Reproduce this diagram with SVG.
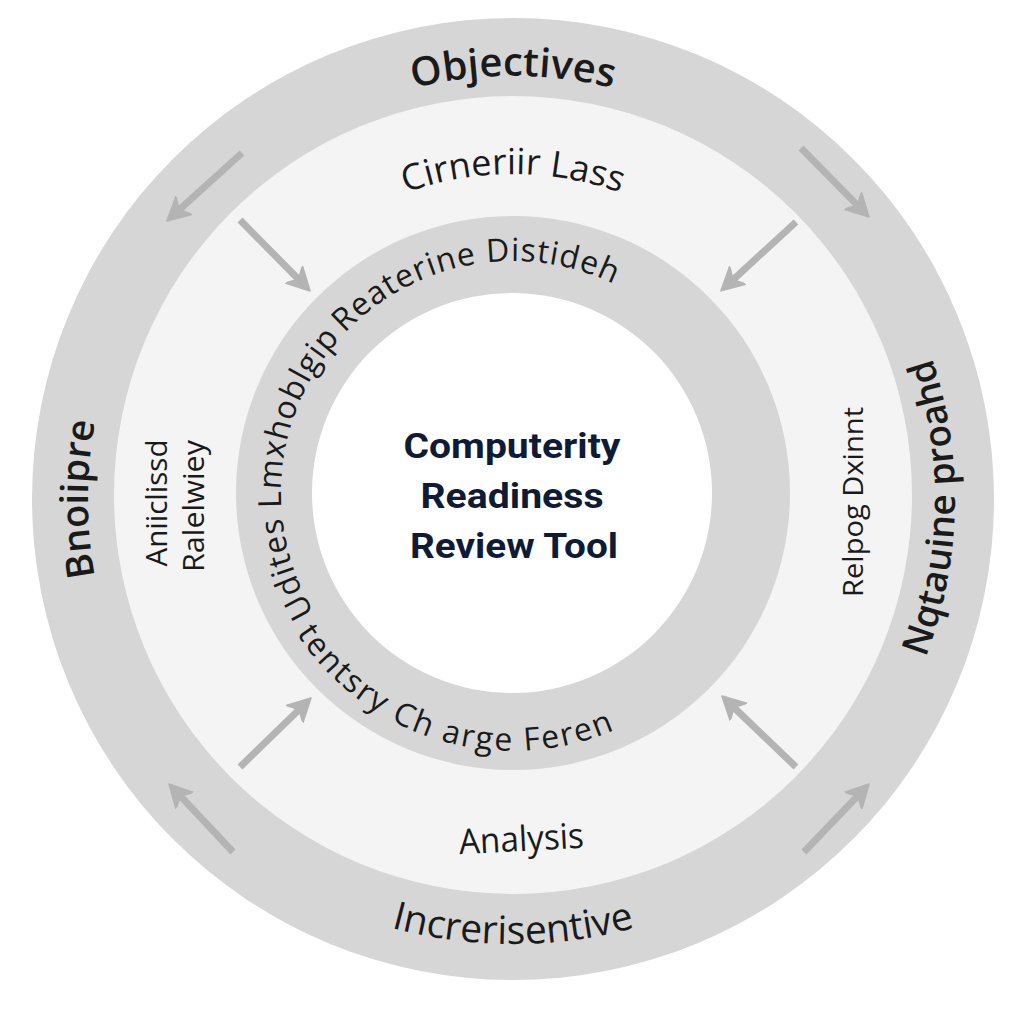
<svg xmlns="http://www.w3.org/2000/svg" width="1024" height="1024" viewBox="0 0 1024 1024">
<style>
.lbl{font-family:"Open Sans","Liberation Sans",sans-serif;fill:#1a1a1a}
.bold{font-weight:600}
.ctr{font-family:Roboto,"Liberation Sans",sans-serif;font-weight:700;fill:#0f1b35;font-size:35px}
.arr{stroke:#b4b4b4;stroke-width:7;fill:none;marker-end:url(#ah)}
</style>
<defs>
<marker id="ah" viewBox="0 0 12 12" refX="3" refY="6" markerWidth="26" markerHeight="26" markerUnits="userSpaceOnUse" orient="auto">
<path d="M0,0.5 L10.5,6 L0,11.5 L3,6 z" fill="#b4b4b4" stroke="#b4b4b4" stroke-width="0.8" stroke-linejoin="round"/>
</marker>
<path id="pObj" d="M90,499 A423,423 0 0 1 936,499"/>
<path id="pLeft" d="M300.5,867.1 A425,425 0 0 1 300.5,130.9"/>
<path id="pRight" d="M734,881.8 A442,442 0 0 0 734,116.2"/>
<path id="pBottom" d="M110.3,711.5 A465,465 0 0 0 915.7,711.5"/>
<path id="pCir" d="M192,495 A321,321 0 0 1 834,495"/>
<path id="pInCw" d="M314.1,612.5 A232,232 0 1 1 741.5,533.3"/>
<path id="pInCwB" d="M344.7,333.3 A232,232 0 0 1 713.9,377"/>
<path id="pInCcw" d="M296.6,633.5 A258,258 0 0 0 755.4,404.8"/>
</defs>
<rect width="1024" height="1024" fill="#ffffff"/>

<g id="ring-outer">
<circle cx="513" cy="499" r="481" fill="#d6d6d6"/>
</g>
<g id="ring-middle">
<circle cx="513" cy="495" r="399" fill="#f4f4f4"/>
</g>
<g id="ring-inner">
<circle cx="513" cy="493" r="277" fill="#d6d6d6"/>
</g>
<g id="core">
<circle cx="512" cy="493" r="200" fill="#ffffff"/>
<text class="ctr" x="512" y="458" text-anchor="middle" textLength="217" lengthAdjust="spacingAndGlyphs">Computerity</text>
<text class="ctr" x="512" y="508" text-anchor="middle" textLength="183" lengthAdjust="spacingAndGlyphs">Readiness</text>
<text class="ctr" x="514" y="558" text-anchor="middle" textLength="208" lengthAdjust="spacingAndGlyphs">Review Tool</text>
</g>

<g id="connectors">
<line class="arr" x1="242" y1="153" x2="179.1" y2="209.9"/>
<line class="arr" x1="801" y1="148" x2="857.5" y2="205.4"/>
<line class="arr" x1="233" y1="852" x2="180.3" y2="795.9"/>
<line class="arr" x1="804" y1="852" x2="857.7" y2="795.9"/>
<line class="arr" x1="240" y1="220" x2="298.5" y2="279.3"/>
<line class="arr" x1="796" y1="222" x2="733" y2="279.8"/>
<line class="arr" x1="240" y1="767" x2="299.2" y2="709.5"/>
<line class="arr" x1="796" y1="767" x2="733.8" y2="707.4"/>
</g>

<g id="label-objectives">
<text class="lbl bold" font-size="40"><textPath href="#pObj" startOffset="50%" text-anchor="middle">Objectives</textPath></text>
</g>
<g id="label-bnoiipre">
<text class="lbl bold" font-size="38"><textPath href="#pLeft" startOffset="50%" text-anchor="middle">Bnoiipre</textPath></text>
</g>
<g id="label-right-outer">
<text class="lbl bold" font-size="37"><textPath href="#pRight" startOffset="49%" text-anchor="middle">Nqtauine proahd</textPath></text>
</g>
<g id="label-increrisentive">
<text class="lbl" font-size="39" font-weight="500"><textPath href="#pBottom" startOffset="50%" text-anchor="middle">Increrisentive</textPath></text>
</g>
<g id="label-cirneriir">
<text class="lbl" font-size="36"><textPath href="#pCir" startOffset="50%" text-anchor="middle">Cirneriir Lass</textPath></text>
</g>
<g id="label-aniiclissd">
<text class="lbl" font-size="30" transform="translate(167,503) rotate(-90)" text-anchor="middle" textLength="127" lengthAdjust="spacingAndGlyphs">Aniiclissd</text>
<text class="lbl" font-size="30" transform="translate(204,506) rotate(-90)" text-anchor="middle" textLength="132" lengthAdjust="spacingAndGlyphs">Ralelwiey</text>
</g>
<g id="label-relpog">
<text class="lbl" font-size="28" transform="translate(863,502) rotate(-90)" text-anchor="middle" textLength="190" lengthAdjust="spacingAndGlyphs">Relpog Dxinnt</text>
</g>
<g id="label-analysis">
<text class="lbl" font-size="35" transform="translate(522,851) rotate(-3)" text-anchor="middle" textLength="125" lengthAdjust="spacingAndGlyphs">Analysis</text>
</g>
<g id="label-inner-top">
<text class="lbl" font-size="32" letter-spacing="1"><textPath href="#pInCw">Udites Lmxhoblgip</textPath></text>
<text class="lbl" font-size="32" letter-spacing="1"><textPath href="#pInCwB">Reaterine Distideh</textPath></text>
</g>
<g id="label-inner-bottom">
<text class="lbl" font-size="32" letter-spacing="2"><textPath href="#pInCcw">tentsry  Ch arge Feren</textPath></text>
</g>
</svg>
